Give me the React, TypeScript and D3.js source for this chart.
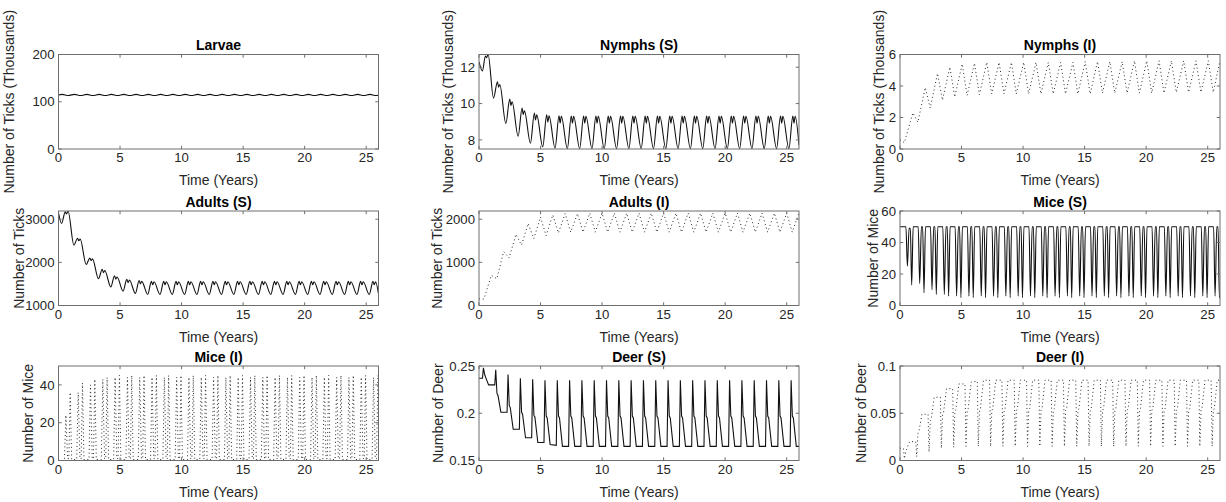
import React from "react";
import * as d3 from "d3";

// ---------------- DATA ----------------
const xTicks = [0, 5, 10, 15, 20, 25];

// Larvae (thousands): per-year [crest, dip] at phases below
const larvaeLead: [number, number][] = [[0, 114.4]];
const larvaePhase = [0.3, 0.8];
const larvaeCycles = [
  [115.6, 113.3], [115.7, 113.2], [115.7, 113.2], [115.7, 113.2], [115.7, 113.2], [115.7, 113.2],
  [115.7, 113.2], [115.7, 113.2], [115.7, 113.2], [115.7, 113.2], [115.7, 113.2], [115.7, 113.2],
  [115.7, 113.2], [115.7, 113.2], [115.7, 113.2], [115.7, 113.2], [115.7, 113.2], [115.7, 113.2],
  [115.7, 113.2], [115.7, 113.2], [115.7, 113.2], [115.7, 113.2], [115.7, 113.2], [115.7, 113.2],
  [115.7, 113.2], [115.7, 113.2],
];
const larvaeTail: [number, number] = [26, 114.5];

// Nymphs (S) (thousands): per-year [trough, peak1, notch, peak2]
const nymphsSLead: [number, number][] = [[0, 12.3], [0.28, 11.8], [0.52, 12.62], [0.61, 12.52], [0.74, 12.7]];
const nymphsSPhase = [0.18, 0.5, 0.59, 0.69];
const nymphsSCycles = [
  [10.3, 11.2, 10.9, 11.05], [8.9, 10.25, 9.9, 10.1], [8.2, 9.75, 9.4, 9.6], [7.82, 9.48, 9.1, 9.38],
  [7.62, 9.38, 8.98, 9.32], [7.55, 9.33, 8.93, 9.3], [7.52, 9.32, 8.92, 9.3], [7.52, 9.32, 8.92, 9.3],
  [7.52, 9.32, 8.92, 9.3], [7.52, 9.32, 8.92, 9.3], [7.52, 9.32, 8.92, 9.3], [7.52, 9.32, 8.92, 9.3],
  [7.52, 9.32, 8.92, 9.3], [7.52, 9.32, 8.92, 9.3], [7.52, 9.32, 8.92, 9.3], [7.52, 9.32, 8.92, 9.3],
  [7.52, 9.32, 8.92, 9.3], [7.52, 9.32, 8.92, 9.3], [7.52, 9.32, 8.92, 9.3], [7.52, 9.32, 8.92, 9.3],
  [7.52, 9.32, 8.92, 9.3], [7.52, 9.32, 8.92, 9.3], [7.52, 9.32, 8.92, 9.3], [7.52, 9.32, 8.92, 9.3],
  [7.52, 9.32, 8.92, 9.3],
];
const nymphsSTail: [number, number] = [26, 7.7];

// Nymphs (I) (thousands): per-year [peak, trough]
const nymphsILead: [number, number][] = [[0, 0.6], [0.35, 0.4]];
const nymphsIPhase = [0.05, 0.45];
const nymphsICycles = [
  [2.3, 1.7], [3.9, 2.6], [4.8, 3.1], [5.2, 3.3], [5.4, 3.4], [5.45, 3.45], [5.5, 3.5], [5.5, 3.5],
  [5.5, 3.5], [5.5, 3.5], [5.5, 3.5], [5.5, 3.5], [5.5, 3.5], [5.5, 3.5], [5.55, 3.5], [5.55, 3.55],
  [5.55, 3.55], [5.55, 3.55], [5.6, 3.55], [5.6, 3.55], [5.6, 3.55], [5.6, 3.6], [5.6, 3.6], [5.6, 3.6],
  [5.6, 3.6],
];
const nymphsITail: [number, number] = [26, 5.6];

// Adults (S): per-year [trough, peak1, notch, peak2]
const adultsSLead: [number, number][] = [[0, 3150], [0.25, 2900], [0.55, 3170], [0.65, 3120], [0.78, 3185]];
const adultsSPhase = [0.25, 0.55, 0.65, 0.76];
const adultsSCycles = [
  [2400, 2560, 2500, 2540], [1950, 2100, 2040, 2080], [1620, 1840, 1760, 1810], [1430, 1690, 1610, 1660],
  [1330, 1610, 1530, 1590], [1280, 1580, 1500, 1560], [1260, 1560, 1480, 1550], [1255, 1560, 1480, 1550],
  [1255, 1560, 1480, 1550], [1255, 1560, 1480, 1550], [1255, 1560, 1480, 1550], [1255, 1560, 1480, 1550],
  [1255, 1560, 1480, 1550], [1255, 1560, 1480, 1550], [1255, 1560, 1480, 1550], [1255, 1560, 1480, 1550],
  [1255, 1560, 1480, 1550], [1255, 1560, 1480, 1550], [1255, 1560, 1480, 1550], [1255, 1560, 1480, 1550],
  [1255, 1560, 1480, 1550], [1255, 1560, 1480, 1550], [1255, 1560, 1480, 1550], [1255, 1560, 1480, 1550],
  [1255, 1560, 1480, 1550],
];
const adultsSTail: [number, number] = [26, 1270];

// Adults (I): per-year [peak, trough]
const adultsILead: [number, number][] = [[0, 150], [0.4, 150]];
const adultsIPhase = [0.0, 0.45];
const adultsICycles = [
  [700, 620], [1250, 1100], [1650, 1400], [1900, 1550], [2050, 1620], [2100, 1680], [2130, 1700],
  [2130, 1700], [2140, 1700], [2140, 1700], [2140, 1700], [2140, 1700], [2140, 1700], [2140, 1700],
  [2140, 1700], [2140, 1700], [2140, 1700], [2140, 1700], [2140, 1700], [2140, 1700], [2140, 1700],
  [2140, 1700], [2140, 1700], [2140, 1700], [2140, 1700],
];
const adultsITail: [number, number] = [26, 2150];

// Mice (S): per-year [plateau, dip1, plateau, plateau, dip2, plateau]
const miceSLead: [number, number][] = [[0, 50]];
const miceSPhase = [0.48, 0.6, 0.74, 0.84, 0.95, 1.07];
const miceSCycles = [
  [50, 25, 49, 49, 13, 50], [50, 14, 50, 50, 8, 50], [50, 10, 50, 50, 7, 50], [50, 7, 50, 50, 6, 50],
  [50, 6, 50, 50, 5, 50], [50, 6, 50, 50, 5, 50], [50, 6, 50, 50, 5, 50], [50, 6, 50, 50, 5, 50],
  [50, 6, 50, 50, 5, 50], [50, 6, 50, 50, 5, 50], [50, 6, 50, 50, 5, 50], [50, 6, 50, 50, 5, 50],
  [50, 6, 50, 50, 5, 50], [50, 6, 50, 50, 5, 50], [50, 6, 50, 50, 5, 50], [50, 6, 50, 50, 5, 50],
  [50, 6, 50, 50, 5, 50], [50, 6, 50, 50, 5, 50], [50, 6, 50, 50, 5, 50], [50, 6, 50, 50, 5, 50],
  [50, 6, 50, 50, 5, 50], [50, 6, 50, 50, 5, 50], [50, 6, 50, 50, 5, 50], [50, 6, 50, 50, 5, 50],
  [50, 6, 50, 50, 5, 50], [50, 6, 50, 50, 5, 50],
];
const miceSTail: [number, number] = [26, 6];

// Mice (I): per-year [base, peak1, base, base, peak2, base]
const miceILead: [number, number][] = [[0, 0]];
const miceIPhase = [0.48, 0.6, 0.74, 0.84, 0.95, 1.07];
const miceICycles = [
  [0, 24, 1, 1, 36, 0.5], [0.5, 36, 1, 1, 41, 0.5], [0.5, 40, 1, 1, 43, 0.5], [0.5, 43, 1, 1, 44, 0.5],
  [0.5, 44, 1, 1, 45, 0.5], [0.5, 44, 1, 1, 45, 0.5], [0.5, 44, 1, 1, 45, 0.5], [0.5, 44, 1, 1, 45, 0.5],
  [0.5, 44, 1, 1, 45, 0.5], [0.5, 44, 1, 1, 45, 0.5], [0.5, 44, 1, 1, 45, 0.5], [0.5, 44, 1, 1, 45, 0.5],
  [0.5, 44, 1, 1, 45, 0.5], [0.5, 44, 1, 1, 45, 0.5], [0.5, 44, 1, 1, 45, 0.5], [0.5, 44, 1, 1, 45, 0.5],
  [0.5, 44, 1, 1, 45, 0.5], [0.5, 44, 1, 1, 45, 0.5], [0.5, 44, 1, 1, 45, 0.5], [0.5, 44, 1, 1, 45, 0.5],
  [0.5, 44, 1, 1, 45, 0.5], [0.5, 44, 1, 1, 45, 0.5], [0.5, 44, 1, 1, 45, 0.5], [0.5, 44, 1, 1, 45, 0.5],
  [0.5, 44, 1, 1, 45, 0.5], [0.5, 44, 1, 1, 45, 0.5],
];
const miceITail: [number, number] = [26, 44];

// Deer (S): per-year [low, spike, step start, step end, low]
const deerSLead: [number, number][] = [[0, 0.237]];
const deerSPhase = [0.28, 0.36, 0.46, 0.54, 0.78];
const deerSCycles = [
  [0.237, 0.248, 0.241, 0.238, 0.23], [0.23, 0.246, 0.221, 0.219, 0.201], [0.201, 0.241, 0.208, 0.206, 0.183],
  [0.183, 0.237, 0.201, 0.199, 0.174], [0.174, 0.236, 0.198, 0.196, 0.169], [0.169, 0.235, 0.197, 0.195, 0.167],
  [0.166, 0.235, 0.197, 0.195, 0.165], [0.165, 0.235, 0.197, 0.195, 0.165], [0.165, 0.235, 0.197, 0.195, 0.165],
  [0.165, 0.235, 0.197, 0.195, 0.165], [0.165, 0.235, 0.197, 0.195, 0.165], [0.165, 0.235, 0.197, 0.195, 0.165],
  [0.165, 0.235, 0.197, 0.195, 0.165], [0.165, 0.235, 0.197, 0.195, 0.165], [0.165, 0.235, 0.197, 0.195, 0.165],
  [0.165, 0.235, 0.197, 0.195, 0.165], [0.165, 0.235, 0.197, 0.195, 0.165], [0.165, 0.235, 0.197, 0.195, 0.165],
  [0.165, 0.235, 0.197, 0.195, 0.165], [0.165, 0.235, 0.197, 0.195, 0.165], [0.165, 0.235, 0.197, 0.195, 0.165],
  [0.165, 0.235, 0.197, 0.195, 0.165], [0.165, 0.235, 0.197, 0.195, 0.165], [0.165, 0.235, 0.197, 0.195, 0.165],
  [0.165, 0.235, 0.197, 0.195, 0.165], [0.165, 0.235, 0.197, 0.195, 0.165],
];
const deerSTail: [number, number] = [26, 0.165];

// Deer (I): per-year [high, dip, step start, step end, high]
const deerILead: [number, number][] = [[0, 0.013]];
const deerIPhase = [0.28, 0.36, 0.46, 0.54, 0.78];
const deerICycles = [
  [0.013, 0.002, 0.009, 0.012, 0.02], [0.02, 0.004, 0.029, 0.031, 0.049], [0.049, 0.009, 0.042, 0.044, 0.067],
  [0.067, 0.013, 0.049, 0.051, 0.076], [0.076, 0.014, 0.052, 0.054, 0.081], [0.081, 0.015, 0.053, 0.055, 0.083],
  [0.084, 0.015, 0.053, 0.055, 0.085], [0.085, 0.015, 0.053, 0.055, 0.085], [0.085, 0.015, 0.053, 0.055, 0.085],
  [0.085, 0.015, 0.053, 0.055, 0.085], [0.085, 0.015, 0.053, 0.055, 0.085], [0.085, 0.015, 0.053, 0.055, 0.085],
  [0.085, 0.015, 0.053, 0.055, 0.085], [0.085, 0.015, 0.053, 0.055, 0.085], [0.085, 0.015, 0.053, 0.055, 0.085],
  [0.085, 0.015, 0.053, 0.055, 0.085], [0.085, 0.015, 0.053, 0.055, 0.085], [0.085, 0.015, 0.053, 0.055, 0.085],
  [0.085, 0.015, 0.053, 0.055, 0.085], [0.085, 0.015, 0.053, 0.055, 0.085], [0.085, 0.015, 0.053, 0.055, 0.085],
  [0.085, 0.015, 0.053, 0.055, 0.085], [0.085, 0.015, 0.053, 0.055, 0.085], [0.085, 0.015, 0.053, 0.055, 0.085],
  [0.085, 0.015, 0.053, 0.055, 0.085], [0.085, 0.015, 0.053, 0.055, 0.085],
];
const deerITail: [number, number] = [26, 0.085];

// ---------------- helpers ----------------
function assemble(
  lead: [number, number][],
  phase: number[],
  firstYear: number,
  cycles: number[][],
  tail: [number, number]
): [number, number][] {
  const pts: [number, number][] = [...lead];
  cycles.forEach((vals, i) => {
    phase.forEach((p, j) => {
      const t = firstYear + i + p;
      if (t > pts[pts.length - 1][0] && t < tail[0]) pts.push([t, vals[j]]);
    });
  });
  pts.push(tail);
  return pts;
}

type Panel = {
  title: string;
  ylabel: string;
  domain: [number, number];
  yticks: number[];
  ytickText: string[];
  dotted: boolean;
  curve: d3.CurveFactory;
  data: [number, number][];
  ylabelX: number;
};

const FONT = "'Liberation Sans', Arial, Helvetica, sans-serif";
const colLeft = [58.5, 479, 900];
const rowTop = [54.5, 211, 366];
const plotW = 320;
const plotH = 94.5;

const panels: Panel[] = [
  {
    title: "Larvae", ylabel: "Number of Ticks (Thousands)", domain: [0, 200],
    yticks: [0, 100, 200], ytickText: ["0", "100", "200"], dotted: false, curve: d3.curveMonotoneX,
    data: assemble(larvaeLead, larvaePhase, 0, larvaeCycles, larvaeTail), ylabelX: 14,
  },
  {
    title: "Nymphs (S)", ylabel: "Number of Ticks (Thousands)", domain: [7.5, 12.7],
    yticks: [8, 10, 12], ytickText: ["8", "10", "12"], dotted: false, curve: d3.curveMonotoneX,
    data: assemble(nymphsSLead, nymphsSPhase, 1, nymphsSCycles, nymphsSTail), ylabelX: 452.5,
  },
  {
    title: "Nymphs (I)", ylabel: "Number of Ticks (Thousands)", domain: [0, 6],
    yticks: [0, 2, 4, 6], ytickText: ["0", "2", "4", "6"], dotted: true, curve: d3.curveLinear,
    data: assemble(nymphsILead, nymphsIPhase, 1, nymphsICycles, nymphsITail), ylabelX: 884,
  },
  {
    title: "Adults (S)", ylabel: "Number of Ticks", domain: [1000, 3190],
    yticks: [1000, 2000, 3000], ytickText: ["1000", "2000", "3000"], dotted: false, curve: d3.curveMonotoneX,
    data: assemble(adultsSLead, adultsSPhase, 1, adultsSCycles, adultsSTail), ylabelX: 23.5,
  },
  {
    title: "Adults (I)", ylabel: "Number of Ticks", domain: [0, 2190],
    yticks: [0, 1000, 2000], ytickText: ["0", "1000", "2000"], dotted: true, curve: d3.curveLinear,
    data: assemble(adultsILead, adultsIPhase, 1, adultsICycles, adultsITail), ylabelX: 441.5,
  },
  {
    title: "Mice (S)", ylabel: "Number of Mice", domain: [0, 60],
    yticks: [0, 20, 40, 60], ytickText: ["0", "20", "40", "60"], dotted: false, curve: d3.curveMonotoneX,
    data: assemble(miceSLead, miceSPhase, 0, miceSCycles, miceSTail), ylabelX: 877.5,
  },
  {
    title: "Mice (I)", ylabel: "Number of Mice", domain: [0, 50],
    yticks: [0, 20, 40], ytickText: ["0", "20", "40"], dotted: true, curve: d3.curveLinear,
    data: assemble(miceILead, miceIPhase, 0, miceICycles, miceITail), ylabelX: 33,
  },
  {
    title: "Deer (S)", ylabel: "Number of Deer", domain: [0.15, 0.25],
    yticks: [0.15, 0.2, 0.25], ytickText: ["0.15", "0.2", "0.25"], dotted: false, curve: d3.curveLinear,
    data: assemble(deerSLead, deerSPhase, 0, deerSCycles, deerSTail), ylabelX: 443,
  },
  {
    title: "Deer (I)", ylabel: "Number of Deer", domain: [0, 0.1],
    yticks: [0, 0.05, 0.1], ytickText: ["0", "0.05", "0.1"], dotted: true, curve: d3.curveLinear,
    data: assemble(deerILead, deerIPhase, 0, deerICycles, deerITail), ylabelX: 866,
  },
];

const AXIS = "#262626";
const FRAME = "#6e6e6e";

function Subplot({ p, left, top }: { p: Panel; left: number; top: number }) {
  const x = d3.scaleLinear().domain([0, 26]).range([left, left + plotW]);
  const y = d3.scaleLinear().domain(p.domain).range([top + plotH, top]);
  const line = d3
    .line<[number, number]>()
    .x((d) => x(d[0]))
    .y((d) => y(d[1]))
    .curve(p.curve);
  const bottom = top + plotH;
  const right = left + plotW;
  const tl = 3.2;
  const clipId = `clip-${left}-${top}`;
  return (
    <g>
      <defs>
        <clipPath id={clipId}>
          <rect x={left} y={top} width={plotW} height={plotH} />
        </clipPath>
      </defs>
      <path
        d={line(p.data) || ""}
        fill="none"
        stroke={p.dotted ? "#2a2a2a" : "#111"}
        strokeWidth={p.dotted ? 1 : 1.1}
        strokeDasharray={p.dotted ? "1 2.8" : undefined}
        clipPath={`url(#${clipId})`}
      />
      <rect x={left} y={top} width={plotW} height={plotH} fill="none" stroke={FRAME} strokeWidth={1} />
      {xTicks.map((t) => (
        <g key={"x" + t}>
          <line x1={x(t)} x2={x(t)} y1={bottom} y2={bottom - tl} stroke={FRAME} />
          <line x1={x(t)} x2={x(t)} y1={top} y2={top + tl} stroke={FRAME} />
          <text x={x(t)} y={bottom + 13} textAnchor="middle" fontSize={13.2} fill={AXIS} fontFamily={FONT}>
            {t}
          </text>
        </g>
      ))}
      {p.yticks.map((t, i) => (
        <g key={"y" + t}>
          <line x1={left} x2={left + tl} y1={y(t)} y2={y(t)} stroke={FRAME} />
          <line x1={right} x2={right - tl} y1={y(t)} y2={y(t)} stroke={FRAME} />
          <text x={left - 4} y={y(t) + 4.7} textAnchor="end" fontSize={13.2} fill={AXIS} fontFamily={FONT}>
            {p.ytickText[i]}
          </text>
        </g>
      ))}
      <text
        x={left + plotW / 2}
        y={top - 4.5}
        textAnchor="middle"
        fontSize={14}
        fontWeight="bold"
        fill="#000"
        fontFamily={FONT}
      >
        {p.title}
      </text>
      <text x={left + plotW / 2} y={bottom + 36} textAnchor="middle" fontSize={14} fill={AXIS} fontFamily={FONT}>
        Time (Years)
      </text>
      <text
        transform={`translate(${p.ylabelX},${top + plotH / 2}) rotate(-90)`}
        textAnchor="middle"
        fontSize={14}
        fill={AXIS}
        fontFamily={FONT}
      >
        {p.ylabel}
      </text>
    </g>
  );
}

export default function App() {
  return (
    <svg
      width={1226}
      height={502}
      style={{ position: "absolute", left: 0, top: 0, background: "#fff" }}
    >
      <rect x={0} y={0} width={1226} height={502} fill="#fff" />
      {panels.map((p, i) => (
        <Subplot key={p.title} p={p} left={colLeft[i % 3]} top={rowTop[Math.floor(i / 3)]} />
      ))}
    </svg>
  );
}
